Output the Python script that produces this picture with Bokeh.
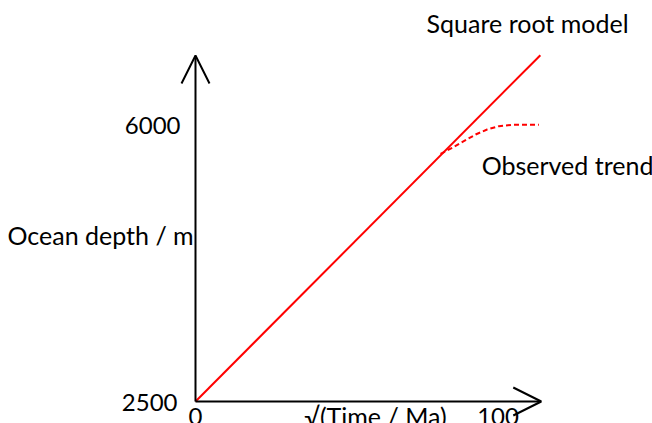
from bokeh.plotting import figure
from bokeh.models import Arrow, OpenHead, Range1d
from bokeh.core.properties import value
from bokeh.embed import file_html
from bokeh.resources import INLINE

# ---- data ----
model_x = [0, 114]
model_y = [2500, 6900]

observed_x = [81.0, 84.9, 88.7, 92.6, 96.4, 100.3, 104.7, 109.1, 113.5]
observed_y = [5647, 5723, 5807, 5892, 5956, 5998, 6016, 6016, 6016]

x_tick_values = [0, 100]
x_tick_labels = ["0", "100"]
y_tick_values = [2500, 6000]
y_tick_labels = ["2500", "6000"]

x_axis_end = 114.3
y_axis_end = 6896

x_title = "√(Time / Ma)"
y_title = "Ocean depth / m"
model_label = "Square root model"
observed_label = "Observed trend"

# ---- figure ----
FONT = value("Lato")
FS = "25px"
FS_NUM = "24px"
DY = -10  # baseline correction in pixels

p = figure(width=652, height=423, output_backend="svg", toolbar_location=None,
           x_range=Range1d(-64.46, 151.07), y_range=Range1d(2220.5, 7594.6),
           min_border=0)
p.axis.visible = False
p.grid.visible = False
p.outline_line_color = None
p.background_fill_color = "white"
p.border_fill_color = "white"

# axes with arrow heads
p.add_layout(Arrow(end=OpenHead(size=28, line_width=2, line_color="black"),
                   x_start=0, y_start=y_tick_values[0], x_end=x_axis_end,
                   y_end=y_tick_values[0], line_width=2, line_color="black"))
p.add_layout(Arrow(end=OpenHead(size=28, line_width=2, line_color="black"),
                   x_start=0, y_start=y_tick_values[0], x_end=0,
                   y_end=y_axis_end, line_width=2, line_color="black"))

# series
p.line(model_x, model_y, line_color="#ff0000", line_width=2)
p.line(observed_x, observed_y, line_color="#ff0000", line_width=2,
       line_dash="5 3")

# tick labels
p.text(x=[0] * len(y_tick_values), y=y_tick_values, text=y_tick_labels,
       text_align="right", text_baseline="alphabetic",
       x_offset=[-18, -15], y_offset=[11 + DY, 9 + DY],
       text_font=FONT, text_font_size=FS_NUM, text_color="black")
p.text(x=x_tick_values, y=[y_tick_values[0]] * len(x_tick_values),
       text=x_tick_labels, text_align="center", text_baseline="alphabetic",
       y_offset=25 + DY, text_font=FONT, text_font_size=FS_NUM,
       text_color="black")

# axis titles
p.text(x=[59.5], y=[y_tick_values[0]], text=[x_title], text_align="center",
       text_baseline="alphabetic", y_offset=24 + DY,
       text_font=FONT, text_font_size=FS, text_color="black")
p.text(x=[-62.15], y=[4491], text=[y_title], text_align="left",
       text_baseline="alphabetic", y_offset=DY,
       text_font=FONT, text_font_size=FS, text_color="black")

# series labels
p.text(x=[76.4], y=[7163], text=[model_label], text_align="left",
       text_baseline="alphabetic", y_offset=DY - 1,
       text_font=FONT, text_font_size=FS, text_color="black")
p.text(x=[94.6], y=[5380], text=[observed_label], text_align="left",
       text_baseline="alphabetic", y_offset=DY,
       text_font=FONT, text_font_size=FS, text_color="black")

open("out.html", "w").write(file_html(p, INLINE))
